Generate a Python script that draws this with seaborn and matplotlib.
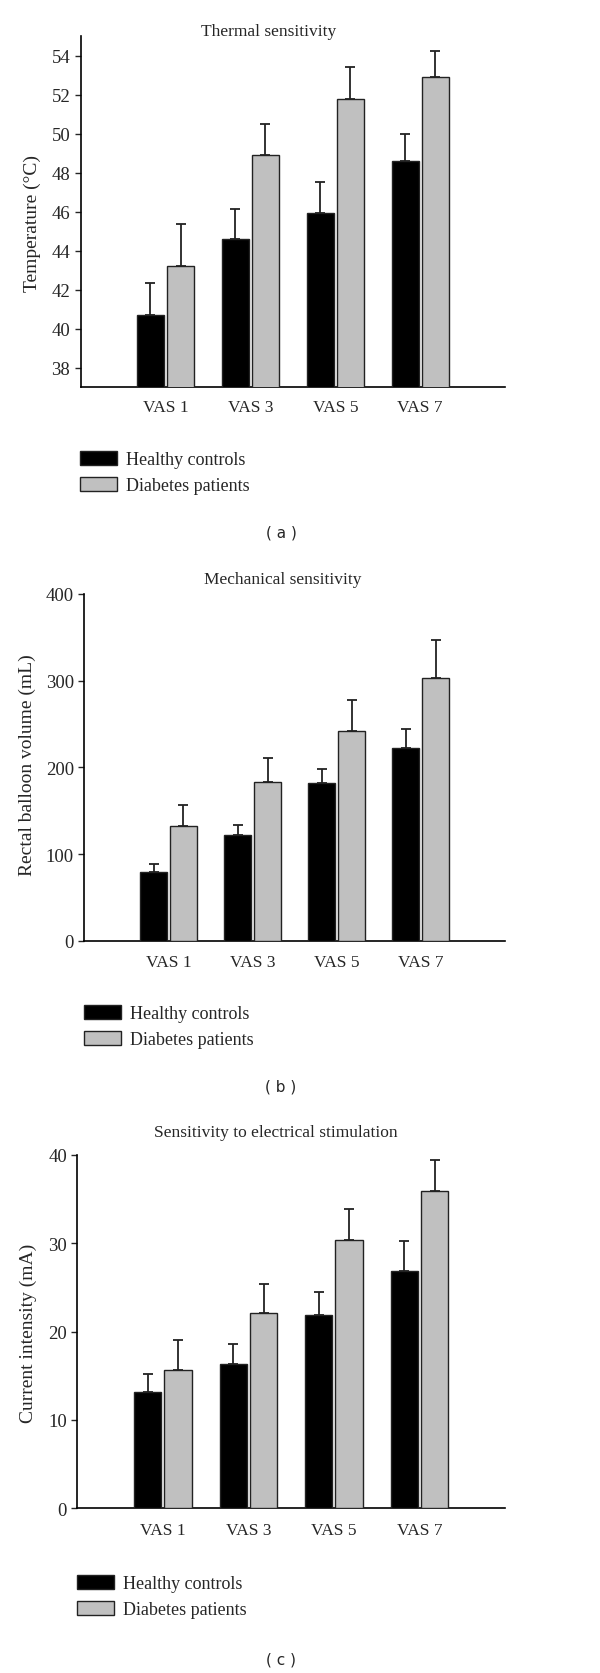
import matplotlib
matplotlib.use('Agg')
import matplotlib.pyplot as plt
import numpy as np
import pandas as pd
import seaborn as sns

vas = ['VAS 1', 'VAS 3', 'VAS 5', 'VAS 7']
groups = ['Healthy controls', 'Diabetes patients']

# thermal (deg C)
thermal_healthy = [40.7, 44.6, 45.95, 48.6]
thermal_healthy_sd = [1.63, 1.54, 1.55, 1.4]
thermal_diabetes = [43.2, 48.9, 51.8, 52.9]
thermal_diabetes_sd = [2.17, 1.6, 1.63, 1.35]

# mechanical (mL)
mech_healthy = [79, 122, 182, 222]
mech_healthy_sd = [10, 11, 16, 22]
mech_diabetes = [132, 183, 242, 303]
mech_diabetes_sd = [25, 28, 36, 44]

# electrical (mA)
elec_healthy = [13.2, 16.3, 21.9, 26.9]
elec_healthy_sd = [2.0, 2.3, 2.6, 3.3]
elec_diabetes = [15.7, 22.1, 30.3, 35.9]
elec_diabetes_sd = [3.35, 3.25, 3.6, 3.5]

panels = [
    dict(title='Thermal sensitivity', ylabel='Temperature (°C)', tag='( a )',
         h=thermal_healthy, hs=thermal_healthy_sd, d=thermal_diabetes, ds=thermal_diabetes_sd,
         ylim=(37, 55), yticks=np.arange(38, 55, 2),
         rect=(80.7, 37.2, 505, 388), title_xy=(269, 32), ylab_xy=(32, 224),
         leg_xy=(80, 452), tag_y=533, xl_y=405),
    dict(title='Mechanical sensitivity', ylabel='Rectal balloon volume (mL)', tag='( b )',
         h=mech_healthy, hs=mech_healthy_sd, d=mech_diabetes, ds=mech_diabetes_sd,
         ylim=(0, 400), yticks=np.arange(0, 401, 100),
         rect=(84.3, 595, 505, 941.7), title_xy=(283, 580), ylab_xy=(27, 765),
         leg_xy=(84.3, 1006), tag_y=1087, xl_y=959),
    dict(title='Sensitivity to electrical stimulation', ylabel='Current intensity (mA)', tag='( c )',
         h=elec_healthy, hs=elec_healthy_sd, d=elec_diabetes, ds=elec_diabetes_sd,
         ylim=(0, 40), yticks=np.arange(0, 41, 10),
         rect=(77.3, 1155.7, 505, 1509.3), title_xy=(276, 1133), ylab_xy=(28, 1333),
         leg_xy=(77, 1576), tag_y=1660, xl_y=1527),
]

W, H = 600, 1674
sns.set_style('white')
plt.rcParams['font.family'] = ['Liberation Serif', 'DejaVu Serif']
fig = plt.figure(figsize=(W / 100, H / 100), dpi=100)

for p in panels:
    x0, y0, x1, y1 = p['rect']
    ax = fig.add_axes([x0 / W, 1 - y1 / H, (x1 - x0) / W, (y1 - y0) / H])
    df = pd.DataFrame({
        'vas': vas * 2,
        'group': [groups[0]] * 4 + [groups[1]] * 4,
        'val': p['h'] + p['d'],
    })
    sns.barplot(data=df, x='vas', y='val', hue='group', order=vas, hue_order=groups,
                palette=['black', '#c0c0c0'], saturation=1, edgecolor='#222222',
                linewidth=1, width=0.71, gap=0.1, errorbar=None, ax=ax, zorder=3)
    # upper error bars only
    bars = [b for b in ax.patches if b.get_height() > 0][:8]
    vals = p['h'] + p['d']
    sds = p['hs'] + p['ds']
    for b, v, s in zip(bars, vals, sds):
        cx = b.get_x() + b.get_width() / 2
        ax.errorbar([cx], [v], yerr=[[0], [s]], fmt='none', ecolor='#222222',
                    elinewidth=1.3, capsize=3.5, capthick=1.3, zorder=2)
    ax.set_xlim(-1, 4)
    ax.set_ylim(*p['ylim'])
    ax.set_yticks(p['yticks'])
    ax.set_xlabel('')
    ax.set_ylabel('')
    ax.get_legend().remove()
    for s in ['top', 'right']:
        ax.spines[s].set_visible(False)
    for s in ['left', 'bottom']:
        ax.spines[s].set_linewidth(1.2)
        ax.spines[s].set_color('black')
    ax.tick_params(axis='y', direction='out', length=4.5, width=1, labelsize=13.5, pad=3, left=True)
    ax.tick_params(axis='x', length=0, labelsize=12.5, pad=(p['xl_y'] - y1) - 8)
    fig.text(p['title_xy'][0] / W, 1 - p['title_xy'][1] / H, p['title'],
             ha='center', va='center', fontsize=12.5)
    fig.text(p['ylab_xy'][0] / W, 1 - p['ylab_xy'][1] / H, p['ylabel'],
             ha='center', va='center', rotation=90, fontsize=14)
    handles, labels = ax.get_legend_handles_labels()
    if not handles:
        from matplotlib.patches import Patch
        handles = [Patch(facecolor='black', edgecolor='#222222'),
                   Patch(facecolor='#c0c0c0', edgecolor='#222222')]
        labels = groups
    fig.legend(handles, labels, loc='upper left',
               bbox_to_anchor=(p['leg_xy'][0] / W, 1 - p['leg_xy'][1] / H),
               frameon=False, fontsize=13, handlelength=2.05, handleheight=0.85,
               handletextpad=0.5, labelspacing=0.45, borderpad=0, borderaxespad=0)
    fig.text(281 / W, 1 - p['tag_y'] / H, p['tag'], ha='center', va='center',
             fontsize=11, family='DejaVu Sans')

plt.savefig('out.png', dpi=100)
